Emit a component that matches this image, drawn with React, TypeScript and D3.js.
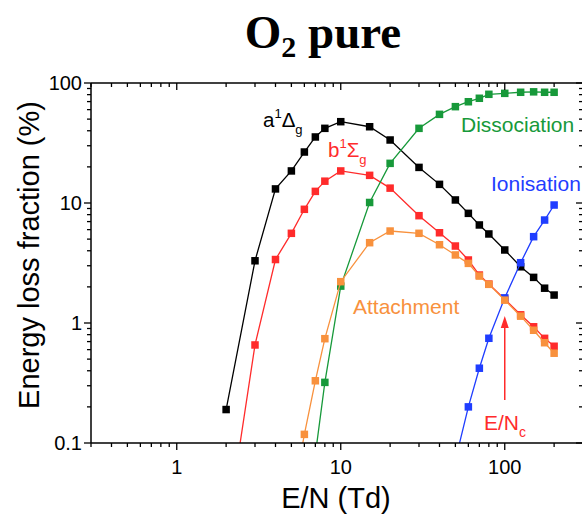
import React from "react";
import * as d3 from "d3";

// E/N grid (Td)
const EN = [2, 3, 4, 5, 6, 7, 8, 10, 15, 20, 30, 40, 50, 60, 70, 80, 100, 125, 150, 175, 200];

// Energy loss fractions (%) aligned with EN; null = no point
const a1Dg = [0.19, 3.3, 13.1, 18.5, 26.6, 35.5, 41.9, 47.6, 43.2, 33.5, 19.8, 14.3, 10.6, 8.2, 6.56, 5.52, 4.06, 2.94, 2.4, 1.95, 1.71];
const b1Sg = [0.017, 0.656, 3.38, 5.59, 8.86, 12.5, 15.2, 18.5, 17.0, 13.3, 7.84, 5.65, 4.38, 3.35, 2.51, 2.11, 1.58, 1.17, 0.93, 0.745, 0.64];
const dissociation = [null, null, null, null, null, 0.08, 0.32, 2.03, 10.1, 21.4, 41.9, 54.8, 63.5, 69.8, 74.6, 80.5, 82, 83.7, 84.4, 83.7, 83.7];
const ionisation = [null, null, null, null, null, null, null, null, null, null, null, null, 0.072, 0.2, 0.42, 0.746, 1.62, 3.18, 5.24, 7.21, 9.62];
const attachment = [null, null, null, 0.03, 0.118, 0.33, 0.74, 2.21, 4.67, 5.84, 5.59, 4.49, 3.69, 3.14, 2.46, 2.1, 1.55, 1.14, 0.87, 0.685, 0.56];

const xMajor = [1, 10, 100];
const xMajorLabels = ["1", "10", "100"];
const yMajor = [0.1, 1, 10, 100];
const yMajorLabels = ["0.1", "1", "10", "100"];
const critEN = 100;

const W = 582, H = 522;
const L = 91, R = 583, T = 83, B = 443;

const C_BLACK = "#000000";
const C_RED = "#ff2b2b";
const C_GREEN = "#17993a";
const C_BLUE = "#1f3dff";
const C_ORANGE = "#f8913d";

const SANS = "'Liberation Sans', Arial, Helvetica, sans-serif";
const SERIF = "'Liberation Serif', 'Times New Roman', serif";

function minorTicks(lo: number, hi: number): number[] {
  const out: number[] = [];
  for (let p = -2; p <= 3; p++) {
    for (let m = 1; m <= 9; m++) {
      const v = m * Math.pow(10, p);
      if (v >= lo * 0.999 && v <= hi * 1.001) out.push(v);
    }
  }
  return out;
}

export default function App() {
  const x = d3.scaleLog().domain([0.3, 300]).range([L, R]);
  const y = d3.scaleLog().domain([0.1, 100]).range([B, T]);

  const series = [
    { vals: a1Dg, color: C_BLACK },
    { vals: b1Sg, color: C_RED },
    { vals: dissociation, color: C_GREEN },
    { vals: ionisation, color: C_BLUE },
    { vals: attachment, color: C_ORANGE },
  ];

  const line = d3
    .line<[number, number | null]>()
    .defined((d) => d[1] != null)
    .x((d) => x(d[0]))
    .y((d) => y(d[1] as number));

  const xMinor = minorTicks(0.3, 300).filter((v) => !xMajor.includes(v));
  const yMinor = minorTicks(0.1, 100).filter((v) => !yMajor.includes(v));

  const ms = 7.5;
  const ax = x(critEN);

  return (
    <svg width={W} height={H} style={{ position: "absolute", left: 0, top: 0, background: "#fff" }}>
      <defs>
        <clipPath id="plotclip">
          <rect x={L} y={T} width={R - L} height={B - T} />
        </clipPath>
      </defs>
      <rect x={0} y={0} width={W} height={H} fill="#fff" />

      {/* Title */}
      <text x={323} y={48} textAnchor="middle" fontFamily={SERIF} fontWeight="bold" fontSize={47} fill="#000">
        O<tspan fontSize={30} dy={9}>2</tspan>
        <tspan dy={-9}> pure</tspan>
      </text>

      {/* Data */}
      <g clipPath="url(#plotclip)">
        {series.map((s, i) => {
          const pts: [number, number | null][] = EN.map((e, j) => [e, s.vals[j]]);
          return (
            <g key={i}>
              <path d={line(pts) || ""} fill="none" stroke={s.color} strokeWidth={1.3} />
              {pts
                .filter((p) => p[1] != null)
                .map((p, j) => (
                  <rect
                    key={j}
                    x={x(p[0]) - ms / 2}
                    y={y(p[1] as number) - ms / 2}
                    width={ms}
                    height={ms}
                    fill={s.color}
                  />
                ))}
            </g>
          );
        })}
      </g>

      {/* Axes frame */}
      <g stroke="#000" strokeWidth={1.5} fill="none">
        <line x1={L} y1={B} x2={R} y2={B} />
        <line x1={L} y1={T} x2={R} y2={T} />
        <line x1={L} y1={T} x2={L} y2={B} />
        <line x1={R} y1={T} x2={R} y2={B} />
      </g>
      {/* Ticks */}
      <g stroke="#000" strokeWidth={1.3}>
        {xMajor.map((v, i) => (
          <g key={"xM" + i}>
            <line x1={x(v)} x2={x(v)} y1={B} y2={B + 7} />
            <line x1={x(v)} x2={x(v)} y1={T} y2={T + 7} />
          </g>
        ))}
        {xMinor.map((v, i) => (
          <g key={"xm" + i}>
            <line x1={x(v)} x2={x(v)} y1={B} y2={B + 4} />
            <line x1={x(v)} x2={x(v)} y1={T} y2={T + 4} />
          </g>
        ))}
        {yMajor.map((v, i) => (
          <g key={"yM" + i}>
            <line x1={L - 7} x2={L} y1={y(v)} y2={y(v)} />
            <line x1={R - 7} x2={R} y1={y(v)} y2={y(v)} />
          </g>
        ))}
        {yMinor.map((v, i) => (
          <g key={"ym" + i}>
            <line x1={L - 4} x2={L} y1={y(v)} y2={y(v)} />
            <line x1={R - 4} x2={R} y1={y(v)} y2={y(v)} />
          </g>
        ))}
      </g>

      {/* Tick labels */}
      <g fontFamily={SANS} fontSize={20} fill="#000">
        {xMajor.map((v, i) => (
          <text key={"xl" + i} x={x(v)} y={474} textAnchor="middle">
            {xMajorLabels[i]}
          </text>
        ))}
        {yMajor.map((v, i) => (
          <text key={"yl" + i} x={L - 9} y={y(v) + 7} textAnchor="end">
            {yMajorLabels[i]}
          </text>
        ))}
      </g>

      {/* Axis titles */}
      <text x={(L + 583) / 2 - 1} y={508} textAnchor="middle" fontFamily={SANS} fontSize={29} fill="#000">
        E/N (Td)
      </text>
      <text
        transform={`translate(39, ${(T + B) / 2 - 8}) rotate(-90)`}
        textAnchor="middle"
        fontFamily={SANS}
        fontSize={29}
        fill="#000"
      >
        Energy loss fraction (%)
      </text>

      {/* Annotations */}
      <g fontFamily={SANS}>
        <text x={263} y={127} fontSize={20.5} fill={C_BLACK}>
          a<tspan fontSize={13} dy={-9}>1</tspan>
          <tspan fontSize={20.5} dy={9}>Δ</tspan>
          <tspan fontSize={13} dy={7}>g</tspan>
        </text>
        <text x={328} y={157} fontSize={20.5} fill={C_RED}>
          b<tspan fontSize={13} dy={-9}>1</tspan>
          <tspan fontSize={20.5} dy={9}>Σ</tspan>
          <tspan fontSize={13} dy={7}>g</tspan>
        </text>
        <text x={461} y={132} fontSize={21} fill={C_GREEN}>Dissociation</text>
        <text x={491} y={191} fontSize={21} fill={C_BLUE}>Ionisation</text>
        <text x={353} y={314} fontSize={21} fill={C_ORANGE}>Attachment</text>
        <text x={484} y={430} fontSize={21} fill={C_RED}>
          E/N<tspan fontSize={14} dy={7}>c</tspan>
        </text>
      </g>

      {/* Critical E/N arrow */}
      <line x1={ax} x2={ax} y1={400} y2={325} stroke={C_RED} strokeWidth={1.5} />
      <path d={`M${ax},${316} L${ax - 4},${328} L${ax + 4},${328} Z`} fill={C_RED} />
    </svg>
  );
}
